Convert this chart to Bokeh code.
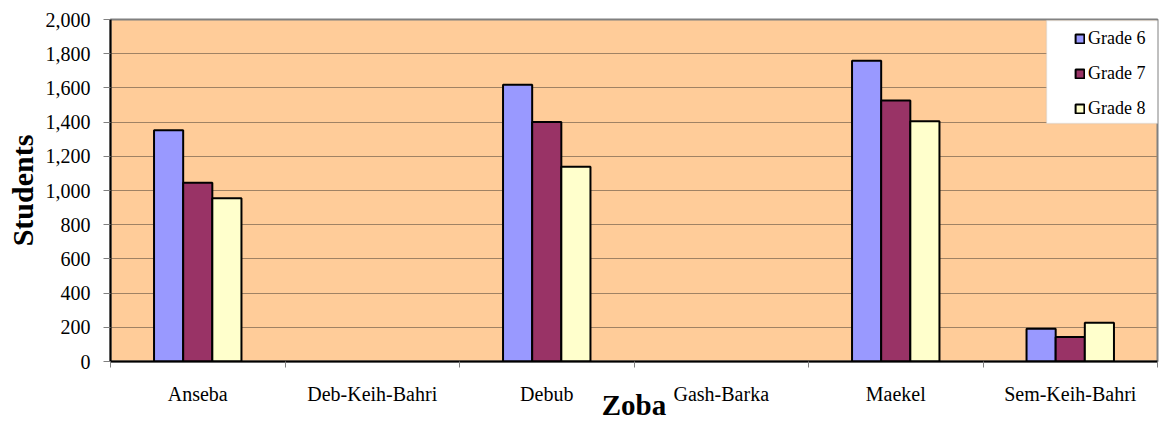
from math import nan

from bokeh.plotting import figure
from bokeh.models import (Range1d, LinearAxis, FixedTicker, NumeralTickFormatter, Legend,
                          LegendItem, BoxAnnotation, ColumnDataSource, Grid)
from bokeh.transform import dodge
from bokeh.embed import file_html
from bokeh.resources import INLINE

# Students per zoba and grade
zobas = ["Anseba", "Deb-Keih-Bahri", "Debub", "Gash-Barka", "Maekel", "Sem-Keih-Bahri"]
grades = ["Grade 6", "Grade 7", "Grade 8"]
grade6 = [1353, nan, 1619, nan, 1759, 192]
grade7 = [1045, nan, 1401, nan, 1526, 144]
grade8 = [954, nan, 1139, nan, 1405, 226]
y_ticks = [0, 200, 400, 600, 800, 1000, 1200, 1400, 1600, 1800, 2000]

colors = ["#9999FF", "#993366", "#FFFFCC"]
serif = "Liberation Serif"

# each zoba occupies one unit slot; its bars sit around the slot centre
centers = [i + 0.5 for i in range(len(zobas))]
edges = list(range(len(zobas) + 1))
source = ColumnDataSource(dict(x=centers, g6=grade6, g7=grade7, g8=grade8))

p = figure(width=1168, height=423,
           x_range=Range1d(0, len(zobas)), y_range=Range1d(0, 2000),
           x_axis_location=None, y_axis_location=None,
           output_backend="svg", toolbar_location=None,
           min_border_left=110, min_border_right=11,
           min_border_top=19, min_border_bottom=61,
           background_fill_color="#FFCC99", border_fill_color="white",
           outline_line_color="#808080", outline_line_width=2)
p.xgrid.visible = False
p.ygrid.visible = False

# value axis
yaxis = LinearAxis(ticker=FixedTicker(ticks=y_ticks),
                   formatter=NumeralTickFormatter(format="0,0"),
                   axis_label="Students", axis_label_text_color="black",
                   axis_label_text_font=serif, axis_label_text_font_size="30px",
                   axis_label_text_font_style="bold", axis_label_standoff=4,
                   major_label_text_font=serif, major_label_text_font_size="20px",
                   major_label_text_color="black", major_label_standoff=13,
                   axis_line_color="black", axis_line_width=2,
                   major_tick_in=0, major_tick_out=7, major_tick_line_color="#808080",
                   minor_tick_line_color=None)
p.add_layout(yaxis, "left")
p.add_layout(Grid(dimension=1, ticker=yaxis.ticker, grid_line_color="#A08264",
                  grid_line_width=1))

# tick marks between the zobas
edge_axis = LinearAxis(ticker=FixedTicker(ticks=edges),
                       major_label_overrides={e: "" for e in edges},
                       major_label_text_font_size="1px", major_label_standoff=0,
                       axis_line_color="black", axis_line_width=2,
                       major_tick_in=0, major_tick_out=6, major_tick_line_color="#808080",
                       minor_tick_line_color=None)
p.add_layout(edge_axis, "below")

# zoba names under the slot centres
name_axis = LinearAxis(ticker=FixedTicker(ticks=centers),
                       major_label_overrides={c: z for c, z in zip(centers, zobas)},
                       axis_label="Zoba", axis_label_text_color="black",
                       axis_label_text_font=serif, axis_label_text_font_size="29px",
                       axis_label_text_font_style="bold", axis_label_standoff=-19,
                       major_label_text_font=serif, major_label_text_font_size="20px",
                       major_label_text_color="black", major_label_standoff=9,
                       axis_line_color=None, major_tick_line_color=None,
                       minor_tick_line_color=None)
p.add_layout(name_axis, "below")

# grouped bars
renderers = []
for col, off, color in zip(["g6", "g7", "g8"], [-0.167, 0.0, 0.167], colors):
    r = p.vbar(x=dodge("x", off), top=col, width=0.167,
               source=source, fill_color=color, line_color="black", line_width=2)
    renderers.append(r)

# legend panel
p.add_layout(BoxAnnotation(left=936, right=1075, bottom=238, top=341,
                           left_units="screen", right_units="screen",
                           bottom_units="screen", top_units="screen",
                           fill_color="white", fill_alpha=1.0,
                           line_color="#BEBEBE", line_width=1.5))
legend = Legend(items=[LegendItem(label=g, renderers=[r]) for g, r in zip(grades, renderers)],
                location=(964, 242), padding=0, spacing=14,
                glyph_width=11, glyph_height=11, label_standoff=3, label_height=20,
                label_text_font=serif, label_text_font_size="18px",
                label_text_color="black",
                background_fill_alpha=0, border_line_color=None)
p.add_layout(legend, "center")

open("out.html", "w").write(file_html(p, INLINE))
